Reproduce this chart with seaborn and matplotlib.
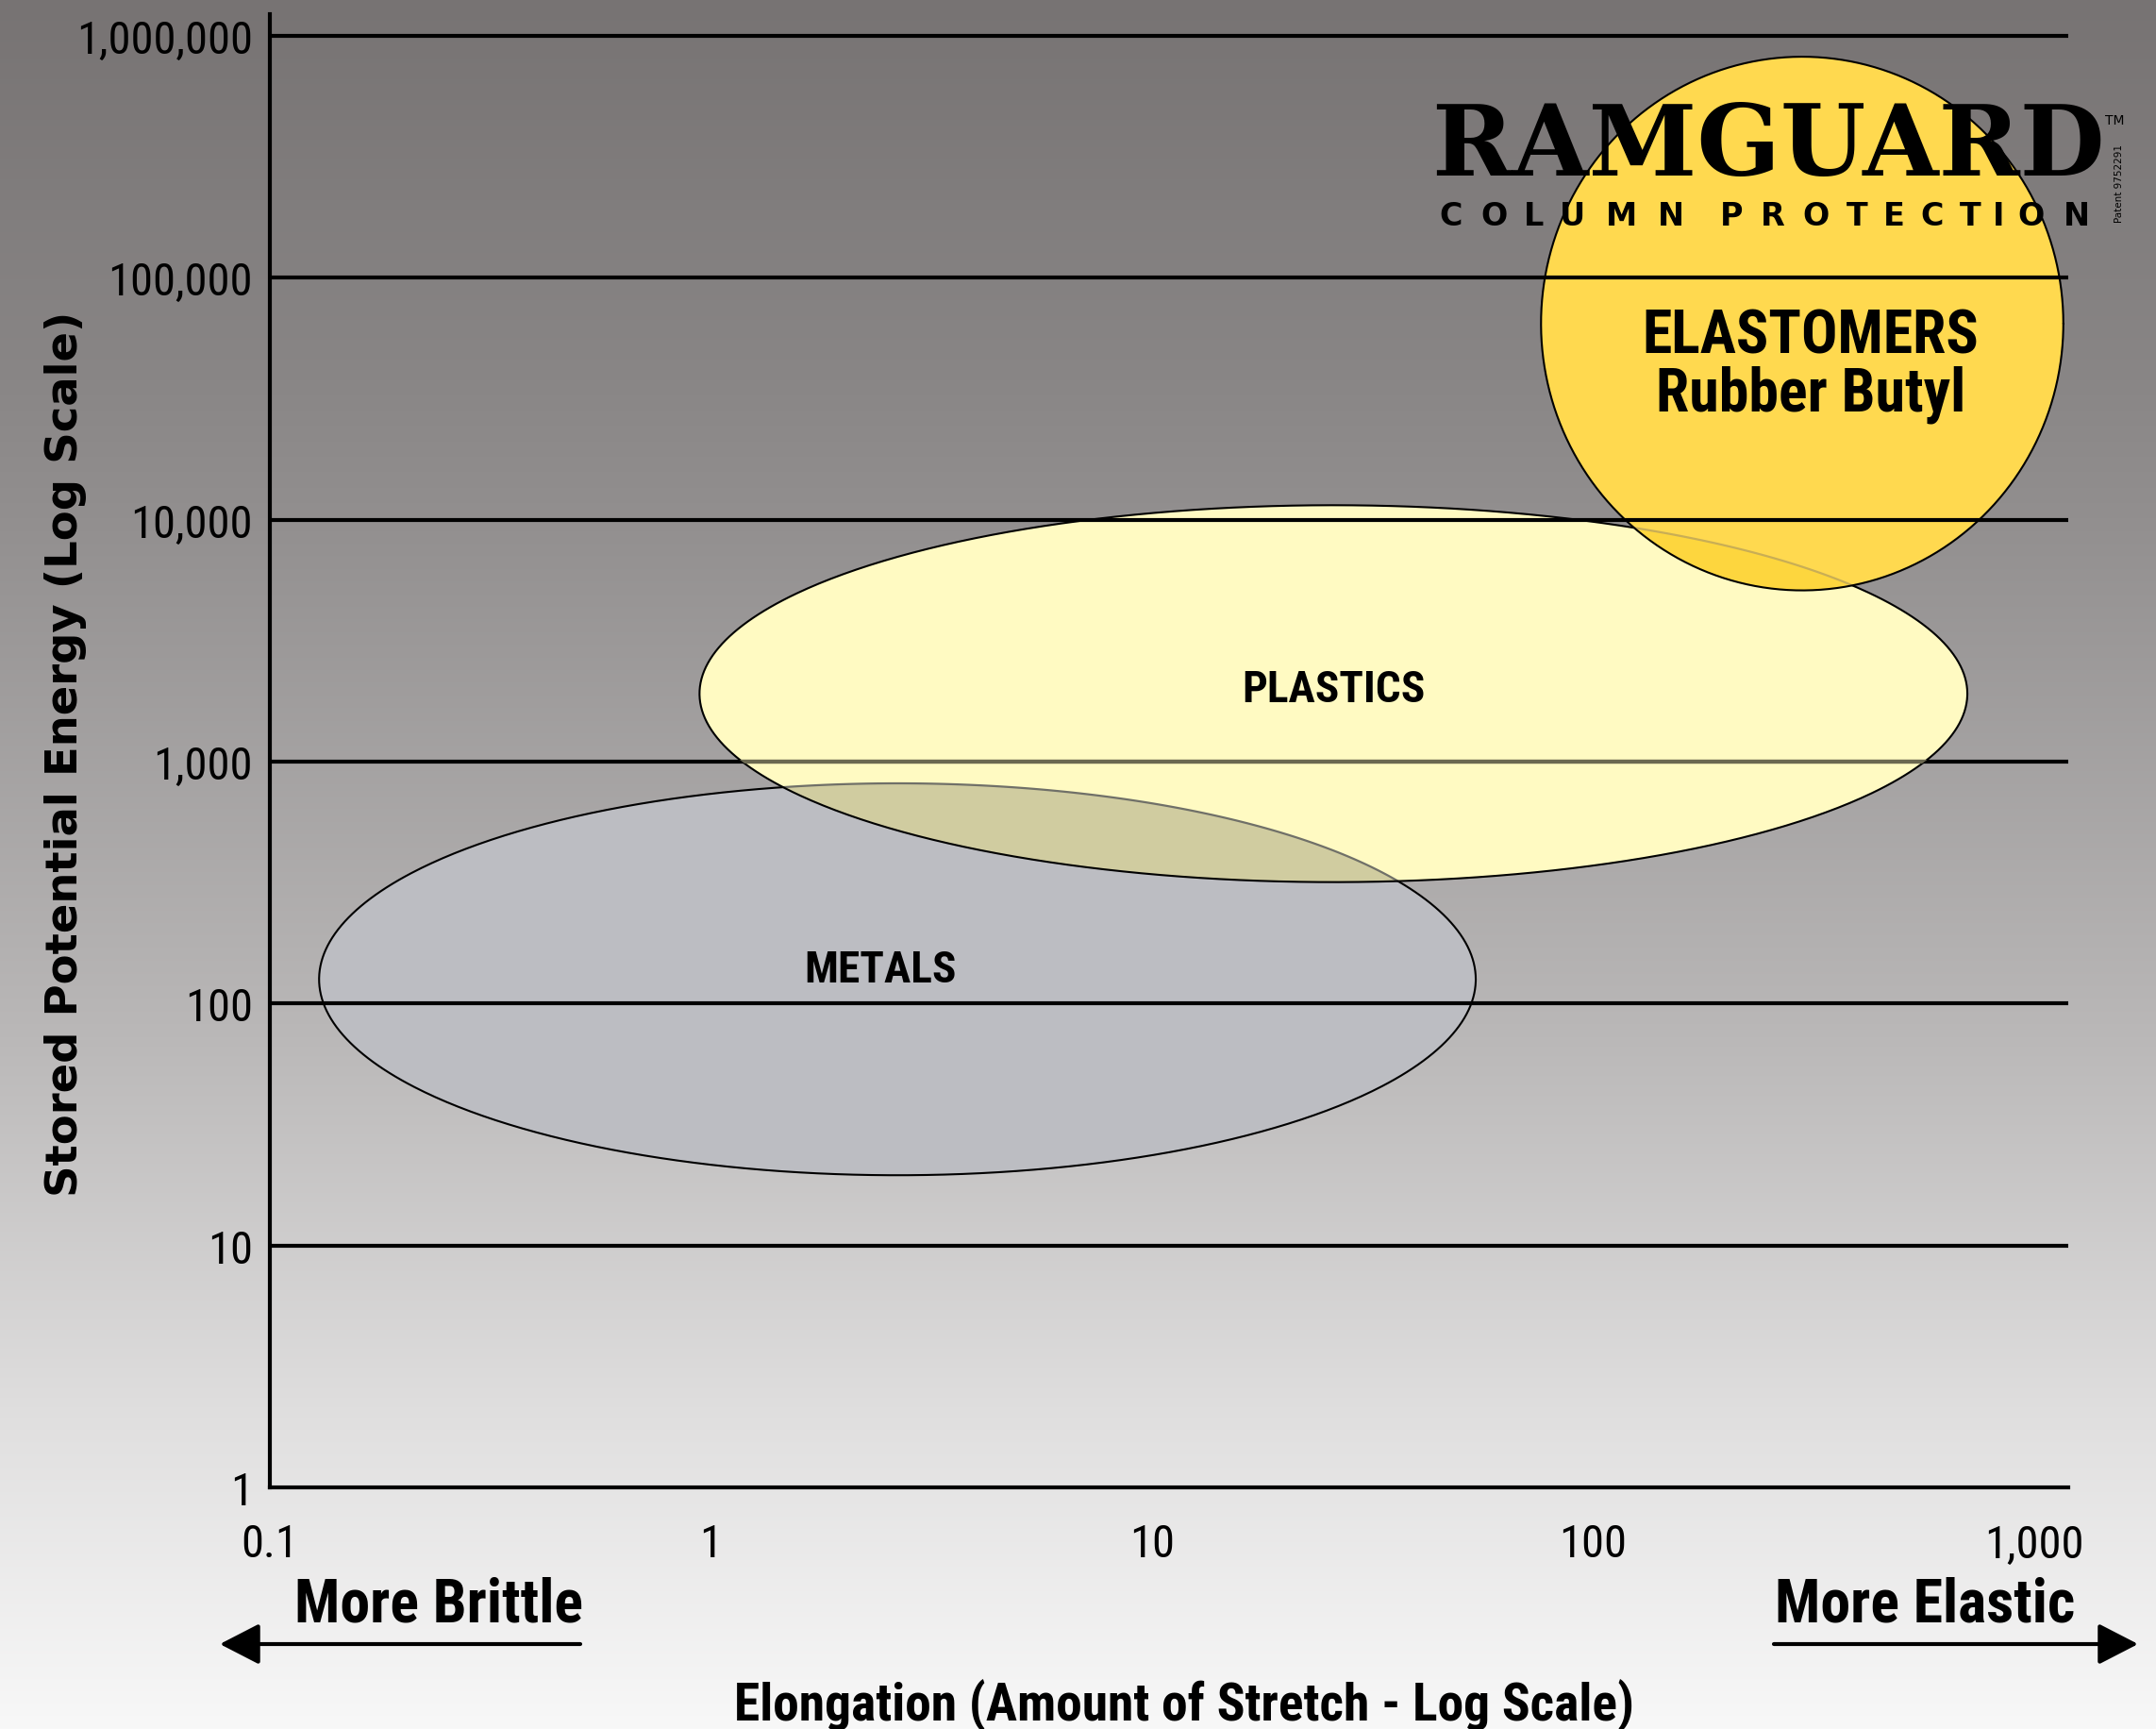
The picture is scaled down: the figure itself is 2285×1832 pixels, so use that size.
import numpy as np
import matplotlib
matplotlib.use("Agg")
import matplotlib.pyplot as plt
import seaborn as sns
from matplotlib import font_manager as fm
from matplotlib.font_manager import FontProperties
from matplotlib.ticker import FixedLocator, FixedFormatter, NullLocator
from matplotlib.patches import FancyArrowPatch
from matplotlib.textpath import TextToPath

# ---------------- data ----------------
materials = ["METALS", "PLASTICS", "ELASTOMERS"]
subtitles = ["", "", "Rubber Butyl"]
center_elongation = [2.65, 25.8, 298.0]
center_energy = [126.0, 1910.0, 64700.0]
half_span_x_decades = [1.311, 1.437, 0.592]
half_span_y_decades = [0.810, 0.779, 1.103]
label_elongation = [2.42, 25.8, 311.0]
label_energy = [123.0, 1774.0, 49300.0]
subtitle_energy = [None, None, 28300.0]

x_ticks = [0.1, 1, 10, 100, 1000]
x_tick_labels = ["0.1", "1", "10", "100", "1,000"]
y_ticks = [1, 10, 100, 1000, 10000, 100000, 1000000]
y_tick_labels = ["1", "10", "100", "1,000", "10,000", "100,000", "1,000,000"]
x_limits = (0.1, 1195.0)
y_limits = (1, 1.23e6)

fill_colors = ["#BCBDC2", "#FFFAC2", "#FFD94F"]

# ---------------- style / fonts ----------------
sns.set_theme(style="white")
ttf = fm.fontManager.ttflist
names = {f.name for f in ttf}


def pick(cands, default=None):
    for c in cands:
        if c in names:
            return c
    return default


NARROW = pick(["Liberation Sans Narrow", "Roboto Condensed", "Open Sans Condensed", "Arial Narrow"])
NARROW_STRETCH = "normal"
if NARROW is None:
    cond = [f.name for f in ttf if str(f.stretch) in ("condensed", "semi-condensed", "extra-condensed")]
    if cond:
        NARROW = cond[0]
        NARROW_STRETCH = "condensed"
    else:
        NARROW = "Lato"

plt.rcParams["font.family"] = [NARROW, "DejaVu Sans"]
plt.rcParams["font.stretch"] = NARROW_STRETCH

W, H = 2285, 1833
fig = plt.figure(figsize=(W / 100, H / 100), dpi=100)


def fx(px):
    return px / W


def fy(py):
    return 1 - py / H


# ---------------- background gradient ----------------
grad_pos = [0.0, 0.22, 0.30, 0.60, 0.82, 1.0]
grad_val = [115, 134, 143, 184, 223, 248]
grad_warm = [4, 3, 3, 2, 1, 0]
t = np.linspace(0, 1, H)
v = np.interp(t, grad_pos, grad_val)
wv = np.interp(t, grad_pos, grad_warm)
img = np.stack([v + wv, v, v], axis=-1)[:, None, :] / 255.0
img = np.clip(img, 0, 1)
bgax = fig.add_axes([0, 0, 1, 1], zorder=-10)
bgax.imshow(img, aspect="auto", extent=[0, 1, 0, 1], origin="upper")
bgax.axis("off")

# ---------------- main axes ----------------
ax = fig.add_axes([fx(285.7), fy(1577), fx(2192) - fx(285.7), fy(16) - fy(1577)])
ax.set_facecolor("none")
ax.set_xscale("log")
ax.set_yscale("log")


def ellipse(i, n=600):
    tt = np.linspace(0, 2 * np.pi, n)
    lx = np.log10(center_elongation[i]) + half_span_x_decades[i] * np.cos(tt)
    ly = np.log10(center_energy[i]) + half_span_y_decades[i] * np.sin(tt)
    return 10 ** lx, 10 ** ly


mx, my = ellipse(0)
px_, py_ = ellipse(1)
ex, ey = ellipse(2)

# metals
metals_poly = ax.fill(mx, my, facecolor=fill_colors[0], edgecolor="none", zorder=1)[0]
sns.lineplot(x=mx, y=my, sort=False, estimator=None, color="black", linewidth=1.5, ax=ax, zorder=1.1)
# plastics
plastics_poly = ax.fill(px_, py_, facecolor=fill_colors[1], edgecolor="none", zorder=2)[0]
ov = ax.fill(mx, my, facecolor="#D0CCA0", edgecolor="#707068", linewidth=1.6, zorder=2.1)[0]
ov.set_clip_path(plastics_poly)
sns.lineplot(x=px_, y=py_, sort=False, estimator=None, color="black", linewidth=1.5, ax=ax, zorder=2.2)
# elastomers
elast_poly = ax.fill(ex, ey, facecolor=fill_colors[2], edgecolor="none", zorder=2.3)[0]
ov2 = ax.fill(px_, py_, facecolor="#FDD63E", edgecolor="#C9AE55", linewidth=1.6, zorder=2.35)[0]
ov2.set_clip_path(elast_poly)
sns.lineplot(x=ex, y=ey, sort=False, estimator=None, color="black", linewidth=1.5, ax=ax, zorder=2.4)

# gridlines
for yv in y_ticks[1:]:
    ax.axhline(yv, color="black", linewidth=3.0, zorder=2.5, solid_capstyle="butt")
olive = ax.axhline(1000, color="#6B6850", linewidth=3.0, zorder=2.55, solid_capstyle="butt")
olive.set_clip_path(plastics_poly)

ax.set_xlim(*x_limits)
ax.set_ylim(*y_limits)

for s in ["top", "right"]:
    ax.spines[s].set_visible(False)
for s in ["left", "bottom"]:
    ax.spines[s].set_linewidth(3.0)
    ax.spines[s].set_color("black")
    ax.spines[s].set_zorder(3)

ax.xaxis.set_major_locator(FixedLocator(x_ticks))
ax.xaxis.set_major_formatter(FixedFormatter(x_tick_labels))
ax.xaxis.set_minor_locator(NullLocator())
ax.yaxis.set_major_locator(FixedLocator(y_ticks))
ax.yaxis.set_major_formatter(FixedFormatter(y_tick_labels))
ax.yaxis.set_minor_locator(NullLocator())
ax.tick_params(axis="x", direction="out", length=10, width=3, pad=17, labelsize=35, colors="black")
ax.tick_params(axis="y", direction="out", length=6, width=3, pad=7, labelsize=35, colors="black")
ax.set_xlabel("")
ax.set_ylabel("")

# material labels
lab_fp = dict(family=[NARROW, "DejaVu Sans"], fontstretch=NARROW_STRETCH, weight="bold")
sizes = [34, 34, 46]
for i, m in enumerate(materials):
    ax.text(label_elongation[i], label_energy[i], m, ha="center", va="baseline",
            fontsize=sizes[i], color="black", zorder=5, **lab_fp)
    if subtitles[i]:
        ax.text(label_elongation[i], subtitle_energy[i], subtitles[i], ha="center", va="baseline",
                fontsize=46, color="black", zorder=5, **lab_fp)

# axis titles
fig.text(fx(1255), fy(1824), "Elongation (Amount of Stretch - Log Scale)", ha="center", va="baseline",
         fontsize=40, color="black", **lab_fp)
fig.text(fx(70), fy(799), "Stored Potential Energy (Log Scale)", ha="center", va="center", rotation=90,
         fontsize=33.5, color="black", family="DejaVu Sans", weight="bold", fontstretch="normal")

# direction hints
fig.text(fx(312), fy(1719), "More Brittle", ha="left", va="baseline", fontsize=46, color="black", **lab_fp)
fig.text(fx(2199), fy(1719), "More Elastic", ha="right", va="baseline", fontsize=46, color="black", **lab_fp)
for tail, tip in [((615, 1743), (233, 1743)), ((1880, 1743), (2266, 1743))]:
    arr = FancyArrowPatch((fx(tail[0]), fy(tail[1])), (fx(tip[0]), fy(tip[1])),
                          transform=fig.transFigure, arrowstyle="-|>,head_length=1.3,head_width=0.67",
                          mutation_scale=20, linewidth=3, color="black", shrinkA=0, shrinkB=0)
    fig.add_artist(arr)

# logo
ttp = TextToPath()
logo_fp = FontProperties(family="DejaVu Serif", weight="bold", size=100)
w_pt = ttp.get_text_width_height_descent("RAMGUARD", logo_fp, ismath=False)[0]
logo_size = 100 * (713 / (w_pt * 100 / 72))
fig.text(fx(1517), fy(186), "RAMGUARD", ha="left", va="baseline", fontsize=logo_size,
         family="DejaVu Serif", weight="bold", fontstretch="normal", color="black")

cp_text = "COLUMN PROTECTION"
cp_size = 24
cp_fp = FontProperties(family="DejaVu Sans", weight="bold", size=cp_size)
widths = []
for ch in cp_text:
    if ch == " ":
        widths.append(cp_size * 0.35)
    else:
        widths.append(ttp.get_text_width_height_descent(ch, cp_fp, ismath=False)[0])
widths = np.array(widths) * 100 / 72
scale = 708 / widths.sum()
cum = 0.0
for ch, wch in zip(cp_text, widths):
    if ch != " ":
        fig.text(fx(1517 + scale * (cum + wch / 2)), fy(239), ch, ha="center", va="baseline",
                 fontsize=cp_size, family="DejaVu Sans", weight="bold", fontstretch="normal", color="black")
    cum += wch

fig.text(fx(2231), fy(132), "TM", ha="left", va="baseline", fontsize=10, family="DejaVu Sans",
         fontstretch="normal", color="black")
fig.text(fx(2246), fy(194), "Patent 9752291", ha="center", va="center", rotation=90, fontsize=7.5,
         family="DejaVu Sans", fontstretch="normal", color="black")

fig.savefig("out.png", dpi=100)
